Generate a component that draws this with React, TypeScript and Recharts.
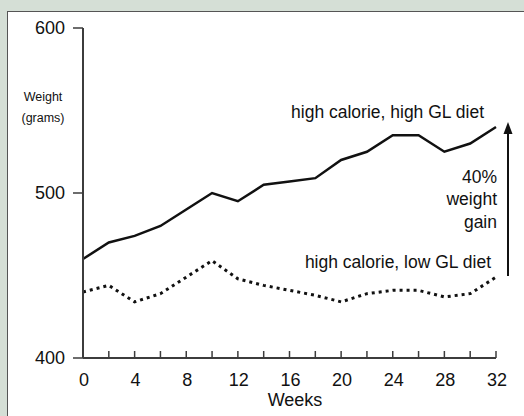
import { LineChart, Line, XAxis, YAxis } from 'recharts';

const weeks = [0, 2, 4, 6, 8, 10, 12, 14, 16, 18, 20, 22, 24, 26, 28, 30, 32];
const highGL = [460, 470, 474, 480, 490, 500, 495, 505, 507, 509, 520, 525, 535, 535, 525, 530, 540];
const lowGL = [440, 444, 434, 439, 449, 459, 448, 444, 441, 438, 434, 439, 441, 441, 437, 439, 449];
const weekLabels = [0, 4, 8, 12, 16, 20, 24, 28, 32];
const weightTicks = [400, 500, 600];

const data = weeks.map((w, i) => ({ week: w, highGL: highGL[i], lowGL: lowGL[i] }));

const FONT = '"Liberation Sans", Arial, sans-serif';
const AXIS = '#3c3c3c';

function WeekTick(props: any) {
  const { x, y, payload } = props;
  const showLabel = weekLabels.includes(payload.value);
  return (
    <g>
      <line x1={x} x2={x} y1={y} y2={y - 7} stroke={AXIS} strokeWidth={1.5} />
      {showLabel && (
        <text x={x + 1} y={y + 22} textAnchor="middle" dominantBaseline="central" fontSize={18} fill="#111" fontFamily={FONT}>
          {payload.value}
        </text>
      )}
    </g>
  );
}

export default function App() {
  return (
    <div style={{ position: 'absolute', left: 0, top: 0, width: 524, height: 416, background: '#d5dfd6', overflow: 'hidden' }}>
      <div
        style={{
          position: 'absolute',
          left: 7,
          top: 11,
          width: 524,
          height: 416,
          background: '#fff',
          borderLeft: '1.5px solid #555',
          borderTop: '1.5px solid #555',
        }}
      />
      <div style={{ position: 'absolute', left: 0, top: 0 }}>
        <LineChart width={524} height={416} data={data} margin={{ top: 28, right: 28, bottom: 0, left: 0 }}>
          <XAxis
            dataKey="week"
            type="number"
            domain={[0, 32]}
            ticks={weeks}
            interval={0}
            height={58}
            tickSize={0}
            tickMargin={0}
            tickLine={false}
            tick={<WeekTick />}
            axisLine={{ stroke: AXIS, strokeWidth: 2 }}
          />
          <YAxis
            type="number"
            domain={[400, 600]}
            ticks={weightTicks}
            width={83}
            tickSize={10}
            tickMargin={8}
            tickLine={{ stroke: AXIS, strokeWidth: 1.5 }}
            axisLine={{ stroke: AXIS, strokeWidth: 2 }}
            tick={{ fontSize: 18, fill: '#111', fontFamily: FONT }}
          />
          <Line
            type="linear"
            dataKey="highGL"
            stroke="#111"
            strokeWidth={2.5}
            dot={false}
            isAnimationActive={false}
          />
          <Line
            type="linear"
            dataKey="lowGL"
            stroke="#111"
            strokeWidth={3}
            strokeDasharray="3 4"
            dot={false}
            isAnimationActive={false}
          />
        </LineChart>
      </div>
      <svg width={524} height={416} style={{ position: 'absolute', left: 0, top: 0, pointerEvents: 'none' }}>
        <g fontFamily={FONT} fill="#111">
          <text x={43} y={97} fontSize={12.5} textAnchor="middle" dominantBaseline="central">Weight</text>
          <text x={43} y={118} fontSize={12.5} textAnchor="middle" dominantBaseline="central">(grams)</text>
          <text x={484} y={112} fontSize={17.5} textAnchor="end" dominantBaseline="central">high calorie, high GL diet</text>
          <text x={497} y={177} fontSize={17.5} textAnchor="end" dominantBaseline="central">40%</text>
          <text x={497} y={199} fontSize={17.5} textAnchor="end" dominantBaseline="central">weight</text>
          <text x={497} y={222} fontSize={17.5} textAnchor="end" dominantBaseline="central">gain</text>
          <text x={491} y={262} fontSize={17.5} textAnchor="end" dominantBaseline="central">high calorie, low GL diet</text>
          <text x={295} y={400} fontSize={18} textAnchor="middle" dominantBaseline="central">Weeks</text>
        </g>
        <line x1={508} x2={508} y1={276} y2={132} stroke="#111" strokeWidth={2} />
        <polygon points="508,122 503.5,134 512.5,134" fill="#111" />
      </svg>
    </div>
  );
}
